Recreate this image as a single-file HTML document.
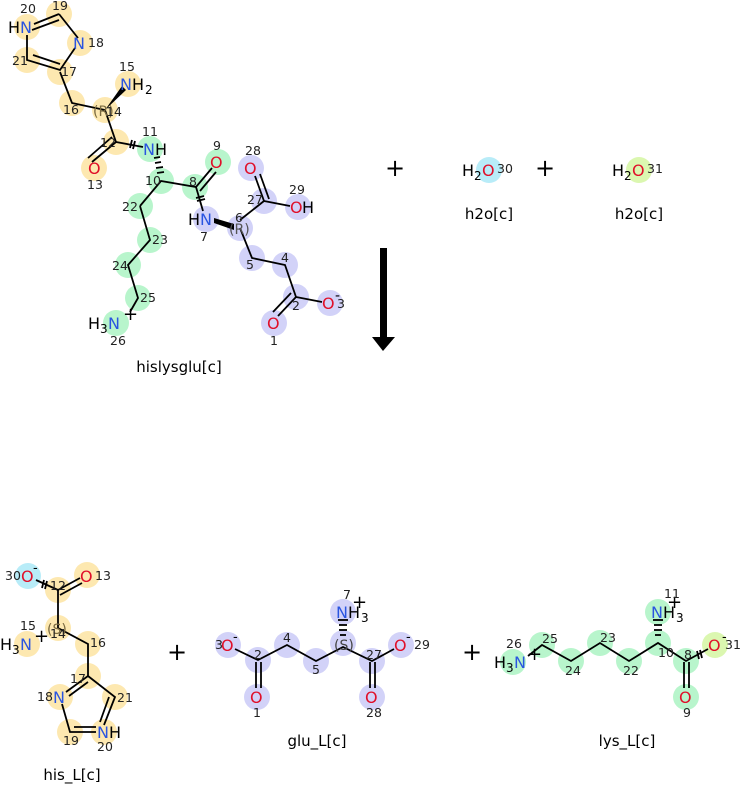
<!DOCTYPE html>
<html><head><meta charset="utf-8"><style>
body{margin:0;background:#fff}
svg{display:block;font-family:"DejaVu Sans","Liberation Sans",sans-serif}
.n{font-size:12.5px;fill:#222}
.st{font-size:14px}
.a{font-size:16px}
.N{fill:#2a55e0}.O{fill:#e0102a}.H{fill:#000}
.l{font-size:15px;fill:#000}
line,polyline{stroke:#000;stroke-width:1.8;fill:none}
.y{fill:#fde8b0}.g{fill:#b8f5cc}.p{fill:#d2d2f8}.c{fill:#b8ecf8}.m{fill:#dbf7b0}
</style></head><body>
<svg width="752" height="785" viewBox="0 0 752 785">
<g>
<circle class="y" cx="27" cy="27" r="13"/><circle class="y" cx="59" cy="14" r="13"/><circle class="y" cx="80" cy="43" r="13"/>
<circle class="y" cx="27" cy="60" r="13"/><circle class="y" cx="60" cy="72" r="13"/><circle class="y" cx="128" cy="84" r="13"/>
<circle class="y" cx="72" cy="103" r="13"/><circle class="y" cx="105" cy="110" r="13"/><circle class="y" cx="116" cy="142" r="13"/>
<circle class="y" cx="94" cy="168" r="13"/>
<circle class="g" cx="150" cy="149" r="13"/><circle class="g" cx="161" cy="181" r="13"/><circle class="g" cx="195" cy="187" r="13"/>
<circle class="g" cx="218" cy="162" r="13"/><circle class="g" cx="140" cy="206" r="13"/><circle class="g" cx="150" cy="240" r="13"/>
<circle class="g" cx="128" cy="265" r="13"/><circle class="g" cx="138" cy="298" r="13"/><circle class="g" cx="116" cy="323" r="13"/>
<circle class="p" cx="251" cy="168" r="13"/><circle class="p" cx="264" cy="201" r="13"/><circle class="p" cx="298" cy="207" r="13"/>
<circle class="p" cx="206" cy="219" r="13"/><circle class="p" cx="240" cy="228" r="13"/><circle class="p" cx="252" cy="258" r="13"/>
<circle class="p" cx="285" cy="265" r="13"/><circle class="p" cx="296" cy="297" r="13"/><circle class="p" cx="330" cy="303" r="13"/>
<circle class="p" cx="274" cy="323" r="13"/>
<circle class="c" cx="489" cy="170" r="13"/><circle class="m" cx="639" cy="170" r="13"/>
</g>
<g>
<polyline points="27,35 27,60 60,70 75,48"/>
<line x1="33" y1="55" x2="60" y2="64"/>
<line x1="34" y1="24" x2="59" y2="14"/><line x1="32" y1="30" x2="59" y2="20"/>
<line x1="59" y1="14" x2="78" y2="38"/>
<polyline points="60,72 72,103 105,110 116,142"/>
<polygon points="105,110 126,90 122,86" fill="#000"/>
<line x1="116" y1="142" x2="92" y2="162"/><line x1="112" y1="137" x2="88" y2="158"/>
<line x1="116" y1="142" x2="143" y2="147"/>
<line x1="132" y1="140" x2="130" y2="148" /><line x1="135" y1="141" x2="133" y2="149"/>
<polyline points="140,206 161,181 196,187 212,168"/>
<line x1="200" y1="191" x2="216" y2="172"/>
<line x1="196" y1="187" x2="203" y2="211"/>
<line x1="196" y1="198" x2="204" y2="196"/><line x1="197" y1="201" x2="205" y2="199"/>
<g stroke-width="1"><line x1="157" y1="173" x2="164" y2="172"/><line x1="156" y1="168" x2="163" y2="167"/><line x1="155" y1="163" x2="161" y2="162"/><line x1="154" y1="158" x2="160" y2="157"/></g>
<polyline points="140,206 150,240 128,265 138,298 130,312"/>
<polygon points="214,218 234,224 234,230 214,223" fill="#000"/>
<polyline points="240,228 252,258 285,265 296,297 322,302"/>
<line x1="240" y1="220" x2="264" y2="201"/>
<line x1="264" y1="201" x2="255" y2="176"/><line x1="269" y1="199" x2="260" y2="174"/>
<line x1="264" y1="201" x2="290" y2="206"/>
<line x1="296" y1="297" x2="278" y2="316"/><line x1="291" y1="293" x2="273" y2="312"/>
</g>
<g class="a">
<text x="8" y="33" class="H">H</text><text x="20" y="33" class="N">N</text>
<text x="73" y="49" class="N">N</text>
<text x="120" y="90" class="N">N</text><text x="132" y="90" class="H">H</text><text x="145" y="94" class="H" font-size="12">2</text>
<text x="88" y="174" class="O">O</text>
<text x="143" y="155" class="N">N</text><text x="155" y="155" class="H">H</text>
<text x="210" y="168" class="O">O</text>
<text x="188" y="225" class="H">H</text><text x="200" y="225" class="N">N</text>
<text x="244" y="174" class="O">O</text>
<text x="290" y="213" class="O">O</text><text x="302" y="213" class="H">H</text>
<text x="322" y="309" class="O">O</text>
<text x="267" y="329" class="O">O</text>
<text x="88" y="329" class="H">H</text><text x="100" y="333" font-size="12">3</text><text x="108" y="329" class="N">N</text>
<text x="123" y="320" font-size="18">+</text>
<text x="335" y="300" font-size="14">-</text>
<text x="462" y="176">H</text><text x="474" y="180" font-size="12">2</text><text x="482" y="176" class="O">O</text>
<text x="612" y="176">H</text><text x="624" y="180" font-size="12">2</text><text x="632" y="176" class="O">O</text>
</g>
<g class="n">
<text x="20" y="13">20</text><text x="52" y="10">19</text><text x="88" y="47">18</text><text x="12" y="65">21</text><text x="61" y="76">17</text>
<text x="119" y="71">15</text><text x="63" y="114">16</text><text class="st" x="93" y="116" fill="#7a6a40">(R)</text><text x="106" y="116">14</text>
<text x="100" y="147">12</text><text x="87" y="189">13</text><text x="142" y="136">11</text><text x="145" y="185">10</text>
<text x="189" y="186">8</text><text x="213" y="150">9</text><text x="122" y="211">22</text><text x="152" y="244">23</text>
<text x="112" y="270">24</text><text x="140" y="302">25</text><text x="110" y="345">26</text>
<text x="245" y="155">28</text><text x="247" y="204">27</text><text x="289" y="194">29</text><text x="200" y="241">7</text>
<text x="235" y="222">6</text><text class="st" x="229" y="234" fill="#555">(R)</text><text x="246" y="269">5</text><text x="281" y="262">4</text>
<text x="292" y="310">2</text><text x="337" y="308">3</text><text x="270" y="345">1</text>
<text x="497" y="173">30</text><text x="647" y="173">31</text>
</g>
<text class="l" x="179" y="372" text-anchor="middle">hislysglu[c]</text>
<text class="l" x="489" y="219" text-anchor="middle">h2o[c]</text>
<text class="l" x="639" y="219" text-anchor="middle">h2o[c]</text>
<g font-size="24" font-family="DejaVu Sans"><text x="385" y="176">+</text><text x="535" y="176">+</text><text x="167" y="660">+</text><text x="462" y="660">+</text></g>
<rect x="380" y="248" width="7" height="90" fill="#000"/><polygon points="372,337 395,337 383,351" fill="#000"/>

<circle class="c" cx="28" cy="576" r="13"/><circle class="y" cx="87" cy="575" r="13"/><circle class="y" cx="58" cy="590" r="13"/>
<circle class="y" cx="58" cy="628" r="13"/><circle class="y" cx="27" cy="644" r="13"/><circle class="y" cx="88" cy="644" r="13"/>
<circle class="y" cx="88" cy="676" r="13"/><circle class="y" cx="60" cy="697" r="13"/><circle class="y" cx="115" cy="697" r="13"/>
<circle class="y" cx="70" cy="732" r="13"/><circle class="y" cx="104" cy="732" r="13"/>
<g class="p"><circle cx="228" cy="645" r="13"/><circle cx="258" cy="660" r="13"/><circle cx="287" cy="645" r="13"/><circle cx="316" cy="661" r="13"/>
<circle cx="343" cy="643" r="13"/><circle cx="343" cy="612" r="13"/><circle cx="372" cy="661" r="13"/><circle cx="401" cy="645" r="13"/>
<circle cx="257" cy="697" r="13"/><circle cx="372" cy="697" r="13"/></g>
<g class="g"><circle cx="513" cy="662" r="13"/><circle cx="542" cy="645" r="13"/><circle cx="571" cy="661" r="13"/><circle cx="600" cy="643" r="13"/>
<circle cx="629" cy="661" r="13"/><circle cx="658" cy="643" r="13"/><circle cx="658" cy="612" r="13"/><circle cx="686" cy="661" r="13"/><circle cx="686" cy="697" r="13"/></g>
<circle class="m" cx="715" cy="645" r="13"/>
<line x1="36" y1="580" x2="58" y2="590"/><line x1="44" y1="580" x2="42" y2="588"/><line x1="47" y1="581" x2="45" y2="589"/>
<line x1="58" y1="590" x2="80" y2="578"/><line x1="60" y1="595" x2="82" y2="583"/>
<polyline points="58,590 58,628 88,644 88,676 115,697 104,725"/>
<line x1="109" y1="697" x2="100" y2="722"/>
<line x1="88" y1="676" x2="66" y2="692"/><line x1="88" y1="682" x2="69" y2="696"/>
<polyline points="62,704 70,732 96,732"/><line x1="74" y1="727" x2="96" y2="727"/>
<polyline points="235,649 258,660 287,645 316,661 343,647 372,661 394,649"/>
<line x1="256" y1="662" x2="256" y2="688"/><line x1="261" y1="662" x2="261" y2="688"/>
<line x1="370" y1="662" x2="370" y2="688"/><line x1="375" y1="662" x2="375" y2="688"/>
<g stroke-width="1"><line x1="340" y1="635" x2="346" y2="635"/><line x1="339" y1="630" x2="347" y2="630"/><line x1="339" y1="625" x2="347" y2="625"/><line x1="338" y1="620" x2="348" y2="620"/>
<line x1="655" y1="635" x2="661" y2="635"/><line x1="654" y1="630" x2="662" y2="630"/><line x1="654" y1="625" x2="662" y2="625"/><line x1="653" y1="620" x2="663" y2="620"/></g>
<polyline points="528,656 542,645 571,661 600,643 629,661 658,643 686,661 708,649"/>
<line x1="684" y1="662" x2="684" y2="688"/><line x1="689" y1="662" x2="689" y2="688"/>
<line x1="697" y1="651" x2="699" y2="659"/><line x1="700" y1="650" x2="702" y2="658"/>
<g class="a">
<text x="21" y="582" class="O">O</text><text x="33" y="572" font-size="13">-</text><text x="80" y="582" class="O">O</text>
<text x="0" y="650">H</text><text x="12" y="654" font-size="12">3</text><text x="20" y="650" class="N">N</text><text x="34" y="642" font-size="18">+</text>
<text x="53" y="703" class="N">N</text><text x="97" y="738" class="N">N</text><text x="109" y="738">H</text>
<text x="221" y="651" class="O">O</text><text x="233" y="641" font-size="13">-</text>
<text x="250" y="703" class="O">O</text><text x="365" y="703" class="O">O</text>
<text x="394" y="651" class="O">O</text><text x="406" y="641" font-size="13">-</text>
<text x="336" y="618" class="N">N</text><text x="348" y="618">H</text><text x="361" y="622" font-size="12">3</text><text x="352" y="608" font-size="18">+</text>
<text x="494" y="668">H</text><text x="506" y="672" font-size="12">3</text><text x="514" y="668" class="N">N</text><text x="527" y="660" font-size="18">+</text>
<text x="651" y="618" class="N">N</text><text x="663" y="618">H</text><text x="676" y="622" font-size="12">3</text><text x="667" y="608" font-size="18">+</text>
<text x="679" y="703" class="O">O</text><text x="708" y="651" class="O">O</text><text x="722" y="641" font-size="13">-</text>
</g>
<g class="n">
<text x="5" y="580">30</text><text x="95" y="580">13</text><text x="50" y="590">12</text><text x="20" y="630">15</text>
<text class="st" x="47" y="634" fill="#7a6a40">(S)</text><text x="50" y="638">14</text><text x="90" y="647">16</text><text x="70" y="683">17</text>
<text x="37" y="701">18</text><text x="117" y="702">21</text><text x="63" y="745">19</text><text x="97" y="751">20</text>
<text x="215" y="649">3</text><text x="254" y="659">2</text><text x="283" y="642">4</text><text x="312" y="674">5</text>
<text class="st" x="334" y="650" fill="#444">(S)</text><text x="343" y="599">7</text><text x="366" y="659">27</text><text x="414" y="649">29</text>
<text x="253" y="717">1</text><text x="366" y="717">28</text>
<text x="506" y="648">26</text><text x="542" y="643">25</text><text x="565" y="675">24</text><text x="600" y="642">23</text>
<text x="623" y="675">22</text><text x="658" y="657">10</text><text x="664" y="598">11</text><text x="684" y="659">8</text>
<text x="725" y="649">31</text><text x="683" y="717">9</text>
</g>
<text class="l" x="72" y="780" text-anchor="middle">his_L[c]</text>
<text class="l" x="317" y="746" text-anchor="middle">glu_L[c]</text>
<text class="l" x="627" y="746" text-anchor="middle">lys_L[c]</text>
</svg>
</body></html>
